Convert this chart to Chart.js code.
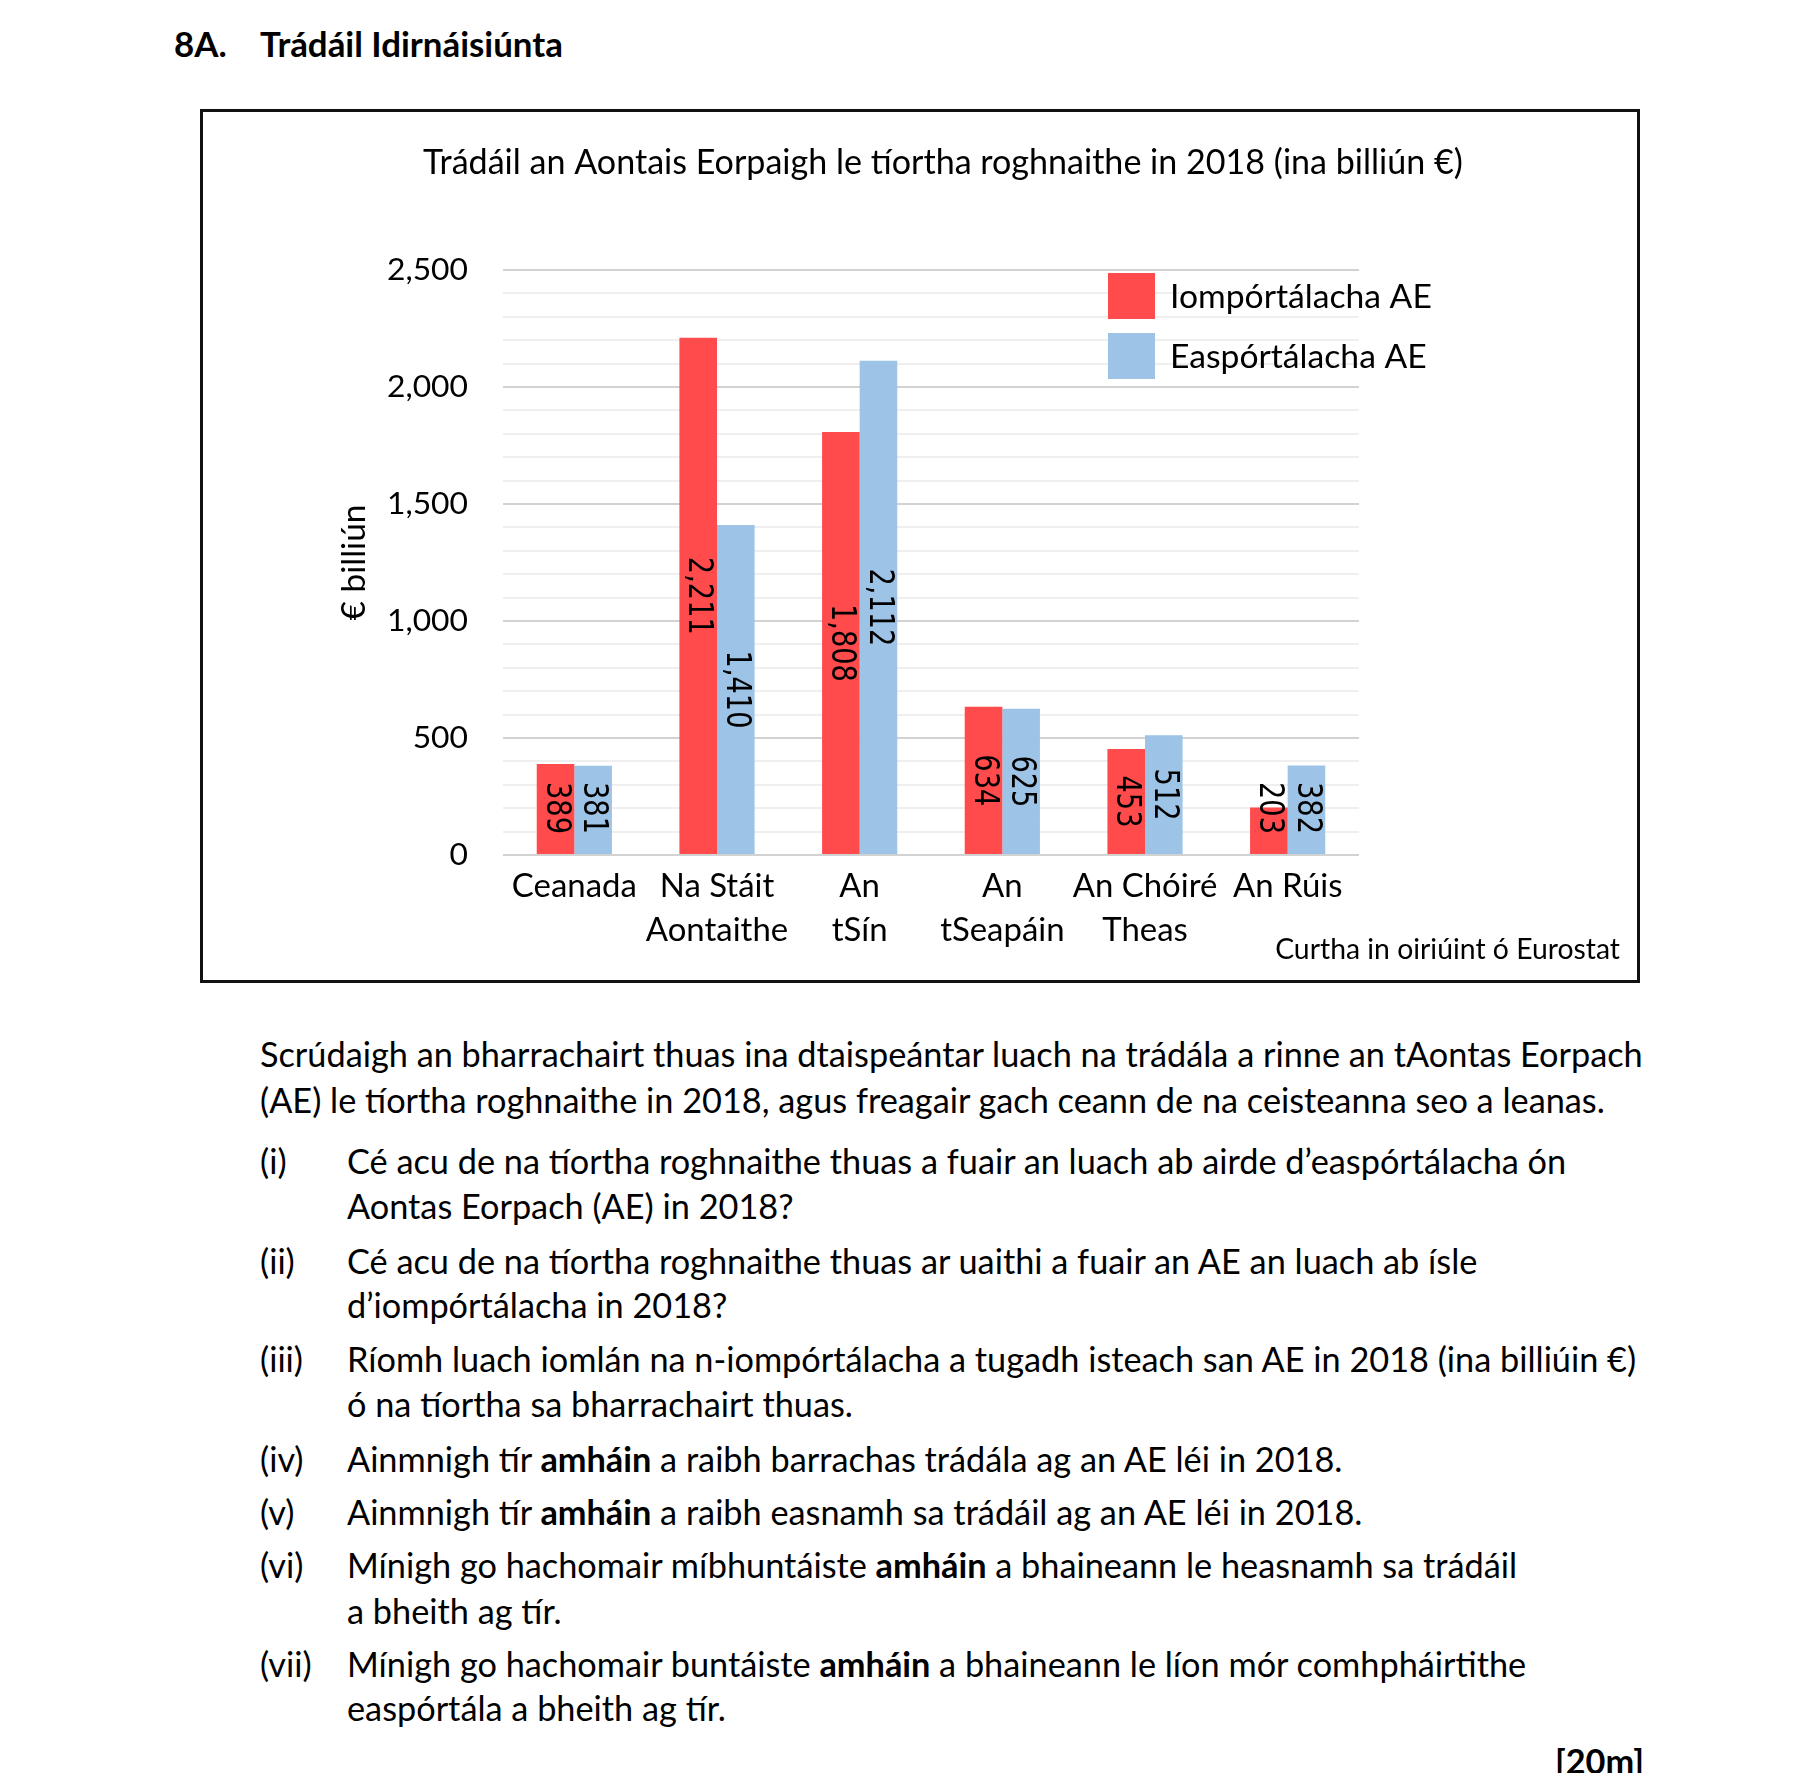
<!DOCTYPE html>
<html><head><meta charset="utf-8">
<script src="https://cdn.jsdelivr.net/npm/chart.js@4.4.0/dist/chart.umd.min.js"></script>
<style>
html,body{margin:0;padding:0;background:#fff;}
body{width:1818px;height:1773px;position:relative;overflow:hidden;font-family:Lato,"Open Sans",sans-serif;color:#000;}
.t{position:absolute;white-space:nowrap;line-height:44px;height:44px;}
.h{position:absolute;white-space:nowrap;font-weight:bold;line-height:44px;}
#box{position:absolute;left:200px;top:109px;width:1440px;height:874px;border:3px solid #111;box-sizing:border-box;}
#box canvas{display:block;}
</style></head>
<body>
<div class="h" id="h1" style="left:174px;top:22px;">8A.</div>
<div class="h" id="h2" style="left:260px;top:22px;">Trádáil Idirnáisiúnta</div>
<div id="box"><canvas id="c" width="1434" height="868"></canvas></div>

<div class="t" style="left:260px;top:1032px;">Scrúdaigh an bharrachairt thuas ina dtaispeántar luach na trádála a rinne an tAontas Eorpach</div>
<div class="t" style="left:260px;top:1078px;">(AE) le tíortha roghnaithe in 2018, agus freagair gach ceann de na ceisteanna seo a leanas.</div>

<div class="t" style="left:260px;top:1139px;">(i)</div>
<div class="t" style="left:347px;top:1139px;">Cé acu de na tíortha roghnaithe thuas a fuair an luach ab airde d’easpórtálacha ón</div>
<div class="t" style="left:347px;top:1184px;">Aontas Eorpach (AE) in 2018?</div>

<div class="t" style="left:260px;top:1239px;">(ii)</div>
<div class="t" style="left:347px;top:1239px;">Cé acu de na tíortha roghnaithe thuas ar uaithi a fuair an AE an luach ab ísle</div>
<div class="t" style="left:347px;top:1283px;">d’iompórtálacha in 2018?</div>

<div class="t" style="left:260px;top:1337px;">(iii)</div>
<div class="t" style="left:347px;top:1337px;">Ríomh luach iomlán na n-iompórtálacha a tugadh isteach san AE in 2018 (ina billiúin €)</div>
<div class="t" style="left:347px;top:1382px;">ó na tíortha sa bharrachairt thuas.</div>

<div class="t" style="left:260px;top:1437px;">(iv)</div>
<div class="t" style="left:347px;top:1437px;">Ainmnigh tír <b>amháin</b> a raibh barrachas trádála ag an AE léi in 2018.</div>

<div class="t" style="left:260px;top:1490px;">(v)</div>
<div class="t" style="left:347px;top:1490px;">Ainmnigh tír <b>amháin</b> a raibh easnamh sa trádáil ag an AE léi in 2018.</div>

<div class="t" style="left:260px;top:1543px;">(vi)</div>
<div class="t" style="left:347px;top:1543px;">Mínigh go hachomair míbhuntáiste <b>amháin</b> a bhaineann le heasnamh sa trádáil</div>
<div class="t" style="left:347px;top:1589px;">a bheith ag tír.</div>

<div class="t" style="left:260px;top:1642px;">(vii)</div>
<div class="t" style="left:347px;top:1642px;">Mínigh go hachomair buntáiste <b>amháin</b> a bhaineann le líon mór comhpháirtithe</div>
<div class="t" style="left:347px;top:1686px;">easpórtála a bheith ag tír.</div>

<div class="t" id="marks" style="right:174px;top:1739px;font-weight:bold;">[20m]</div>

<script>
// ---- data ----
const categories = [["Ceanada"], ["Na Stáit", "Aontaithe"], ["An", "tSín"], ["An", "tSeapáin"], ["An Chóiré", "Theas"], ["An Rúis"]];
const importsEU = [389, 2211, 1808, 634, 453, 203];
const exportsEU = [381, 1410, 2112, 625, 512, 382];
const seriesNames = ["Iompórtálacha AE", "Easpórtálacha AE"];
const yTicks = [0, 500, 1000, 1500, 2000, 2500];
const chartTitle = "Trádáil an Aontais Eorpaigh le tíortha roghnaithe in 2018 (ina billiún €)";
const yTitle = "€ billiún";
const sourceNote = "Curtha in oiriúint ó Eurostat";

// ---- font fitting (match reference text widths) ----
const mc = document.createElement('canvas').getContext('2d');
function fit(text, target, family, weight) {
  mc.font = (weight || 'normal') + ' 40px ' + family;
  return 40 * target / mc.measureText(text).width;
}
const LATO = 'Lato, "Open Sans", sans-serif';
const LBL = '"DejaVu Sans Condensed", "DejaVu Sans", sans-serif';
const F = {
  title: fit(chartTitle, 1040, LATO),
  tick: fit("2,500", 81, LATO),
  xlab: fit("Ceanada", 125, LATO),
  legend: fit(seriesNames[0], 262, LATO),
  ytitle: fit(yTitle, 116, LATO),
  source: fit(sourceNote, 345, LATO),
  label: fit("2,211", 78, LBL),
  hdr: fit("Trádáil Idirnáisiúnta", 303, LATO, 'bold'),
  body: fit("Scrúdaigh an bharrachairt thuas ina dtaispeántar luach na trádála a rinne an tAontas Eorpach", 1384, LATO)
};
document.querySelectorAll('.t').forEach(e => e.style.fontSize = F.body + 'px');
document.querySelectorAll('.h').forEach(e => e.style.fontSize = F.hdr + 'px');

const RED = '#FF4B4B', BLUE = '#9DC3E6';

const decor = {
  id: 'decor',
  afterDatasetsDraw(chart) {
    const ctx = chart.ctx;
    chart.data.datasets.forEach((ds, i) => {
      const meta = chart.getDatasetMeta(i);
      meta.data.forEach((bar, j) => {
        const txt = ds.data[j].toLocaleString('en-US');
        ctx.save();
        ctx.font = F.label + 'px ' + LBL;
        const w = ctx.measureText(txt).width;
        let cy = (bar.y + bar.base) / 2;
        cy = Math.min(cy, bar.base - w / 2 - 20);
        ctx.translate(bar.x, cy);
        ctx.rotate(Math.PI / 2);
        ctx.scale(1, 1.13);
        ctx.textAlign = 'center';
        ctx.textBaseline = 'middle';
        ctx.fillStyle = '#000';
        ctx.fillText(txt, 0, 0);
        ctx.restore();
      });
    });
  },
  afterDraw(chart) {
    const ctx = chart.ctx, a = chart.chartArea;
    ctx.save();
    ctx.fillStyle = '#000';
    ctx.textBaseline = 'middle';
    ctx.textAlign = 'center';
    ctx.font = F.title + 'px ' + LATO;
    ctx.fillText(chartTitle, 740, 51);
    ctx.textAlign = 'left';
    ctx.font = F.legend + 'px ' + LATO;
    chart.data.datasets.forEach((ds, i) => {
      const sx = a.right - 251, sy = a.top + 3 + i * 60;
      ctx.fillStyle = ds.backgroundColor;
      ctx.fillRect(sx, sy, 47, 46);
      ctx.fillStyle = '#000';
      ctx.fillText(ds.label, sx + 62, sy + 24);
    });
    ctx.textAlign = 'right';
    ctx.font = F.source + 'px ' + LATO;
    ctx.fillText(sourceNote, 1417, 838);
    ctx.restore();
  }
};

new Chart(document.getElementById('c'), {
  type: 'bar',
  data: {
    labels: categories,
    datasets: [
      { label: seriesNames[0], data: importsEU, backgroundColor: RED },
      { label: seriesNames[1], data: exportsEU, backgroundColor: BLUE }
    ]
  },
  options: {
    responsive: false,
    animation: false,
    devicePixelRatio: 1,
    layout: { padding: { top: 158, right: 278, left: 0, bottom: 0 } },
    datasets: { bar: { categoryPercentage: 0.527, barPercentage: 1.0 } },
    plugins: { legend: { display: false }, title: { display: false }, tooltip: { enabled: false } },
    scales: {
      x: {
        grid: { display: false, drawTicks: false },
        border: { display: false },
        ticks: { color: '#000', padding: 9, maxRotation: 0, autoSkip: false,
                 font: { family: LATO, size: F.xlab, lineHeight: 44 / F.xlab } },
        afterFit(s) { s.height = 125; }
      },
      y: {
        min: 0, max: 2500,
        grid: { drawTicks: false, lineWidth: 2,
                color: c => (c.tick && yTicks.includes(c.tick.value)) ? '#D2D2D2' : '#EFEFEF' },
        border: { display: false },
        ticks: { stepSize: 100, autoSkip: false, color: '#000', padding: 35,
                 font: { family: LATO, size: F.tick },
                 callback: v => yTicks.includes(v) ? v.toLocaleString('en-US') : '' },
        title: { display: true, text: yTitle, color: '#000', padding: { top: 131, bottom: 0 },
                 font: { family: LATO, size: F.ytitle, lineHeight: 1.2 } },
        afterFit(s) { s.width = 300; }
      }
    }
  },
  plugins: [decor]
});
</script>
</body></html>
